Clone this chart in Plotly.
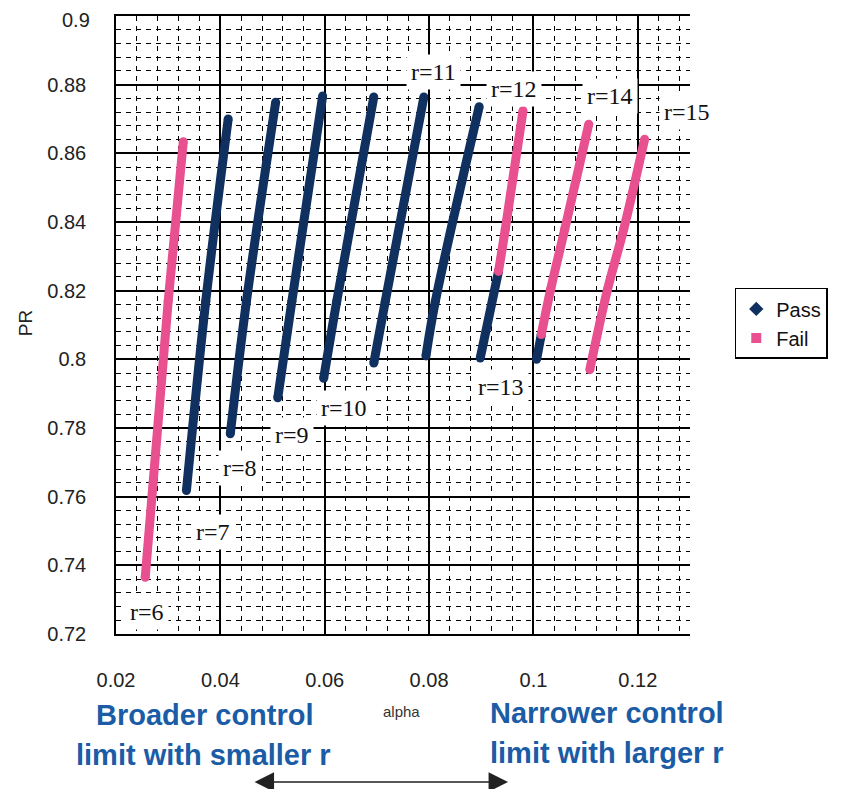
import plotly.graph_objects as go

# Pass / Fail segments of each r curve (None separates curves)
pass_alpha = [0.0335, 0.0372, 0.0415, None,
              0.0419, 0.0450, 0.0506, None,
              0.0510, 0.0537, 0.0596, None,
              0.0598, 0.0623, 0.0694, None,
              0.0694, 0.0716, 0.0790, None,
              0.0794, 0.0812, 0.0896, None,
              0.0898, 0.0933, None,
              0.1006, 0.1015]
pass_pr = [0.7618, 0.8169, 0.8700, None,
           0.7783, 0.8169, 0.8749, None,
           0.7888, 0.8169, 0.8767, None,
           0.7945, 0.8169, 0.8764, None,
           0.7989, 0.8169, 0.8764, None,
           0.8010, 0.8169, 0.8736, None,
           0.8004, 0.8256, None,
           0.8000, 0.8072]

fail_alpha = [0.0256, 0.0300, 0.0329, None,
              0.0933, 0.0946, 0.0980, None,
              0.1015, 0.1033, 0.1060, 0.1106, None,
              0.1108, 0.1142, 0.1173, 0.1213]
fail_pr = [0.7365, 0.8169, 0.8634, None,
           0.8256, 0.8379, 0.8724, None,
           0.8072, 0.8204, 0.8379, 0.8685, None,
           0.7970, 0.8204, 0.8379, 0.8641]

r_labels = ["r=6", "r=7", "r=8", "r=9", "r=10", "r=11", "r=12", "r=13", "r=14", "r=15"]
label_alpha = [0.0260, 0.0385, 0.0438, 0.0538, 0.0637, 0.0808, 0.0963, 0.0938, 0.1146, 0.1294]
label_pr = [0.7264, 0.7498, 0.7684, 0.7781, 0.7859, 0.8837, 0.8787, 0.7920, 0.8767, 0.8720]

x_ticks = [0.02, 0.04, 0.06, 0.08, 0.10, 0.12]
x_ticktext = ["0.02", "0.04", "0.06", "0.08", "0.1", "0.12"]
y_ticks = [0.72, 0.74, 0.76, 0.78, 0.80, 0.82, 0.84, 0.86, 0.88, 0.90]
y_ticktext = ["0.72", "0.74", "0.76", "0.78", "0.8", "0.82", "0.84", "0.86", "0.88", "0.9"]

NAVY = "#10315f"
PINK = "#e8508f"
BLUE_TXT = "#1a5ca6"

fig = go.Figure()

fig.add_trace(go.Scatter(x=pass_alpha, y=pass_pr, mode="lines+markers",
                         line=dict(color=NAVY, width=9, shape="spline", smoothing=1),
                         marker=dict(color=NAVY, size=9),
                         connectgaps=False, showlegend=False))
fig.add_trace(go.Scatter(x=fail_alpha, y=fail_pr, mode="lines+markers",
                         line=dict(color=PINK, width=9, shape="spline", smoothing=1),
                         marker=dict(color=PINK, size=9),
                         connectgaps=False, showlegend=False))

# legend entries (markers only)
fig.add_trace(go.Scatter(x=[None], y=[None], mode="markers", name="Pass",
                         marker=dict(symbol="diamond", color=NAVY, size=11)))
fig.add_trace(go.Scatter(x=[None], y=[None], mode="markers", name="Fail",
                         marker=dict(symbol="square", color=PINK, size=10)))

for t, a, p in zip(r_labels, label_alpha, label_pr):
    fig.add_annotation(x=a, y=p, text=t, showarrow=False,
                       xanchor="center", yanchor="middle",
                       font=dict(family="Liberation Serif", size=24, color="#111"),
                       bgcolor="white", borderpad=4)

minor = dict(dtick=0.004, showgrid=True, gridcolor="black", gridwidth=1,
             griddash="5px,5px", ticks="")
tick_font = dict(family="Liberation Sans", size=20, color="#222")

fig.update_xaxes(range=[0.02, 0.13], tickvals=x_ticks, ticktext=x_ticktext,
                 showgrid=True, gridcolor="black", gridwidth=1.5,
                 showline=True, linecolor="black", linewidth=1.5, mirror=True,
                 zeroline=False, ticks="", ticklabelstandoff=27,
                 tickfont=tick_font, automargin=False,
                 minor=dict(tick0=0.02, **minor))
# top label (0.9) is drawn a little lower as an annotation so it is not cut
fig.update_yaxes(range=[0.72, 0.90], tickvals=y_ticks,
                 ticktext=y_ticktext[:-1] + [""],
                 showgrid=True, gridcolor="black", gridwidth=1.5,
                 showline=True, linecolor="black", linewidth=1.5,
                 zeroline=False, ticks="", ticklabelstandoff=24,
                 tickfont=tick_font, automargin=False,
                 minor=dict(tick0=0.72, **minor))
fig.add_annotation(xref="paper", yref="paper", x=-0.0418, y=0.993,
                   text=y_ticktext[-1], showarrow=False,
                   xanchor="right", yanchor="middle", font=tick_font)

# axis titles
fig.add_annotation(xref="paper", yref="paper", x=-0.1585, y=0.503, text="PR",
                   textangle=-90, showarrow=False, xanchor="center", yanchor="middle",
                   font=dict(family="Liberation Sans", size=19, color="#222"))
fig.add_annotation(xref="paper", yref="paper", x=0.498, y=-0.126, text="alpha",
                   showarrow=False, xanchor="center", yanchor="middle",
                   font=dict(family="Liberation Sans", size=15, color="#333"))

# blue notes
notes = [("Broader control", 0.155, -0.131), ("limit with smaller r", 0.153, -0.196),
         ("Narrower control", 0.855, -0.128), ("limit with larger r", 0.855, -0.193)]
for txt, nx, ny in notes:
    fig.add_annotation(xref="paper", yref="paper", x=nx, y=ny, text="<b>%s</b>" % txt,
                       showarrow=False, xanchor="center", yanchor="middle",
                       font=dict(family="Liberation Sans", size=29, color=BLUE_TXT))

# double arrow
fig.add_annotation(xref="paper", yref="paper", x=0.683, y=-0.2395, ax=-255, ay=0,
                   text="", showarrow=True, arrowhead=2, arrowside="end+start",
                   arrowsize=2.6, arrowwidth=1.5, arrowcolor="#222")

# the page body has an 8px default margin, so the figure is 8px smaller
fig.update_layout(
    width=838, height=781,
    margin=dict(l=108, r=156, t=8, b=155, autoexpand=False),
    plot_bgcolor="white", paper_bgcolor="white",
    legend=dict(x=1.078, y=0.56, xanchor="left", yanchor="top",
                bordercolor="black", borderwidth=1.5,
                font=dict(family="Liberation Sans", size=20, color="#111"),
                itemwidth=30, tracegroupgap=0, entrywidth=95),
)

fig.write_html("out.html")
